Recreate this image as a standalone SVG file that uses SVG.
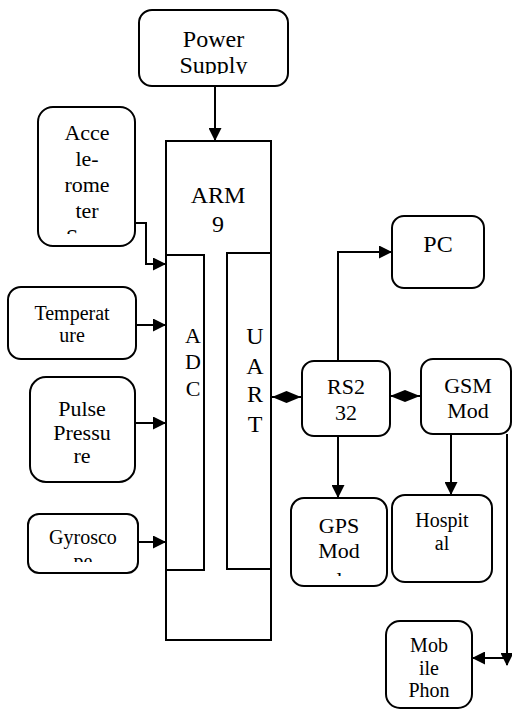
<svg xmlns="http://www.w3.org/2000/svg" width="512" height="710" viewBox="0 0 512 710">
<style>
.box{fill:#fff;stroke:#000;stroke-width:2}
.blk{fill:#fff;stroke:#000;stroke-width:2}
text{font-family:'Liberation Serif','Times New Roman',Times,'DejaVu Serif',serif;fill:#000;text-anchor:middle}
.f24{font-size:24px}
.f22{font-size:22px}
.f20{font-size:20px}
.ln{fill:none;stroke:#000;stroke-width:2}
.dia{fill:#000;stroke:none}
</style>
<defs>
<marker id="ah" markerUnits="userSpaceOnUse" markerWidth="13" markerHeight="13" refX="12" refY="6.5" orient="auto">
<path d="M0,0 L13,6.5 L0,13 z" fill="#000"/>
</marker>
<clipPath id="cPower"><rect x="139" y="10" width="149" height="64"/></clipPath>
<clipPath id="cAcc"><rect x="38" y="107" width="97" height="127"/></clipPath>
<clipPath id="cGyro"><rect x="28" y="514" width="110" height="48"/></clipPath>
<clipPath id="cGps"><rect x="291" y="498" width="96" height="78"/></clipPath>
</defs>

<g id="power-supply">
<rect class="box" x="139" y="10" width="149" height="76" rx="13"/>
<g clip-path="url(#cPower)">
<text class="f24" x="213.5" y="47">Power</text>
<text class="f24" x="213.5" y="73">Supply</text>
</g>
</g>

<g id="arm9">
<rect class="blk" x="166" y="141" width="105" height="499"/>
<text class="f24" x="218" y="203">ARM</text>
<text class="f24" x="218" y="232">9</text>
</g>

<g id="adc">
<rect class="blk" x="166" y="255" width="38" height="315"/>
<text class="f22" x="193" y="343">A</text>
<text class="f22" x="193" y="369">D</text>
<text class="f22" x="193" y="396">C</text>
</g>

<g id="uart">
<rect class="blk" x="227" y="253" width="44" height="316"/>
<text class="f24" x="255" y="344">U</text>
<text class="f24" x="255" y="374">A</text>
<text class="f24" x="255" y="402">R</text>
<text class="f24" x="255" y="432">T</text>
</g>

<g id="accelerometer">
<rect class="box" x="38" y="107" width="97" height="139" rx="15"/>
<g clip-path="url(#cAcc)">
<text class="f22" x="87" y="140">Acce</text>
<text class="f22" x="87" y="166">le-</text>
<text class="f22" x="87" y="192">rome</text>
<text class="f22" x="87" y="218">ter</text>
<text class="f22" x="72" y="244">S</text>
</g>
</g>

<g id="temperature">
<rect class="box" x="8" y="287" width="128" height="72" rx="13"/>
<text class="f20" x="72" y="320">Temperat</text>
<text class="f20" x="72" y="342">ure</text>
</g>

<g id="pulse-pressure">
<rect class="box" x="30" y="377" width="105" height="105" rx="16"/>
<text class="f22" x="82" y="416">Pulse</text>
<text class="f22" x="82" y="440">Pressu</text>
<text class="f22" x="82" y="463">re</text>
</g>

<g id="gyroscope">
<rect class="box" x="28" y="514" width="110" height="59" rx="11"/>
<g clip-path="url(#cGyro)">
<text class="f20" x="83" y="544">Gyrosco</text>
<text class="f20" x="83" y="568">pe</text>
</g>
</g>

<g id="pc">
<rect class="box" x="392" y="216" width="92" height="72" rx="12"/>
<text class="f24" x="438" y="252">PC</text>
</g>

<g id="rs232">
<rect class="box" x="302" y="361" width="88" height="75" rx="12"/>
<text class="f22" x="346" y="394">RS2</text>
<text class="f22" x="346" y="420">32</text>
</g>

<g id="gsm">
<rect class="box" x="421" y="359" width="90" height="75" rx="12"/>
<text class="f22" x="468" y="393">GSM</text>
<text class="f22" x="468" y="418">Mod</text>
</g>

<g id="gps">
<rect class="box" x="291" y="498" width="96" height="88" rx="13"/>
<g clip-path="url(#cGps)">
<text class="f22" x="339" y="533">GPS</text>
<text class="f22" x="339" y="558">Mod</text>
<text class="f22" x="339" y="587">ule</text>
</g>
</g>

<g id="hospital">
<rect class="box" x="392" y="495" width="100" height="87" rx="13"/>
<text class="f20" x="442" y="527">Hospit</text>
<text class="f20" x="442" y="550">al</text>
</g>

<g id="mobile-phone">
<rect class="box" x="386" y="621" width="86" height="87" rx="14"/>
<text class="f20" x="429" y="652">Mob</text>
<text class="f20" x="429" y="675">ile</text>
<text class="f20" x="429" y="697">Phon</text>
</g>

<g id="connectors">
<path class="ln" d="M215,86 V140" marker-end="url(#ah)"/>
<path class="ln" d="M135,223 H146 V264 H165" marker-end="url(#ah)"/>
<path class="ln" d="M136,325 H165" marker-end="url(#ah)"/>
<path class="ln" d="M135,423 H165" marker-end="url(#ah)"/>
<path class="ln" d="M138,542 H165" marker-end="url(#ah)"/>
<path class="ln" d="M338,361 V252 H391" marker-end="url(#ah)"/>
<path class="ln" d="M338,436 V497" marker-end="url(#ah)"/>
<path class="ln" d="M451,434 V494" marker-end="url(#ah)"/>
<path class="ln" d="M507,434 V665" marker-end="url(#ah)"/>
<path class="ln" d="M507,658 H473" marker-end="url(#ah)"/>
<path class="ln" d="M271,397 H302"/>
<polygon class="dia" points="272,397 286.5,391 301,397 286.5,403"/>
<path class="ln" d="M390,396 H421"/>
<polygon class="dia" points="390,396 405,390 420,396 405,402"/>
</g>
</svg>
